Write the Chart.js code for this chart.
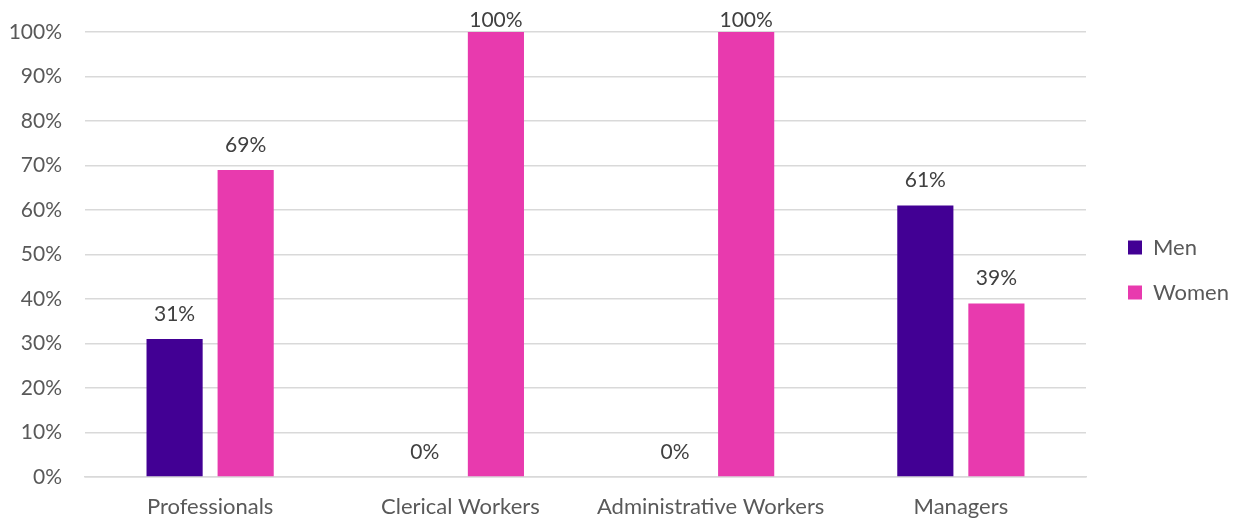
<!DOCTYPE html>
<html>
<head>
<meta charset="utf-8">
<script src="https://cdn.jsdelivr.net/npm/chart.js@4.4.1/dist/chart.umd.min.js"></script>
<style>
  html, body { margin: 0; padding: 0; background: #fff; overflow: hidden; }
  #box { width: 1234px; height: 518px; position: relative; }
</style>
</head>
<body>
<div id="box"><canvas id="chartJob"></canvas></div>
<script>
const kategori = ["Professionals", "Clerical Workers", "Administrative Workers", "Managers"];
const nilaiMen = [31, 0, 0, 61];
const nilaiWomen = [69, 100, 100, 39];
const labelTickY = ["0%", "10%", "20%", "30%", "40%", "50%", "60%", "70%", "80%", "90%", "100%"];

const warnaMen = "#420094";
const warnaWomen = "#E83AAE";
const fontUtama = "Lato, 'Open Sans', sans-serif";

// label nilai di atas batang
const labelBatang = {
  id: "labelBatang",
  afterDatasetsDraw(chart) {
    const ctx = chart.ctx;
    ctx.save();
    ctx.font = "21px " + fontUtama;
    ctx.fillStyle = "#404040";
    ctx.textAlign = "center";
    ctx.textBaseline = "middle";
    chart.data.datasets.forEach(function (ds, i) {
      const meta = chart.getDatasetMeta(i);
      meta.data.forEach(function (bar, j) {
        const y = Math.max(bar.y - 25, 20);
        ctx.fillText(ds.data[j] + "%", bar.x, y);
      });
    });
    ctx.restore();
  }
};

const canvas = document.getElementById("chartJob");
new Chart(canvas, {
  type: "bar",
  data: {
    labels: kategori,
    datasets: [
      { label: "Men", data: nilaiMen, backgroundColor: warnaMen },
      { label: "Women", data: nilaiWomen, backgroundColor: warnaWomen }
    ]
  },
  options: {
    responsive: true,
    maintainAspectRatio: false,
    animation: false,
    layout: { padding: { top: 22, left: 0, right: -5, bottom: 0 } },
    datasets: {
      bar: { categoryPercentage: 0.568, barPercentage: 0.79 }
    },
    scales: {
      x: {
        grid: { display: false, drawTicks: false },
        border: { display: true, color: "#d9d9d9", width: 1.5 },
        ticks: { color: "#595959", font: { size: 22, family: fontUtama }, padding: 17 },
        afterFit: function (s) { s.height = 41; }
      },
      y: {
        min: 0,
        max: 100,
        grid: { color: "#d9d9d9", lineWidth: 1.5, drawTicks: false },
        border: { display: false },
        ticks: {
          stepSize: 10,
          color: "#595959",
          font: { size: 21, family: fontUtama },
          padding: 23,
          callback: function (v) { return labelTickY[v / 10]; }
        },
        afterFit: function (s) {
          s.width = 85;
          s.paddingTop = 32;
        }
      },
      // sumbu kosong untuk jarak antara plot dan legenda
      jarak: {
        position: "right",
        display: true,
        grid: { display: false, drawTicks: false },
        border: { display: false },
        ticks: { display: false },
        afterFit: function (s) { s.width = 19; }
      }
    },
    plugins: {
      legend: {
        position: "right",
        labels: {
          boxWidth: 14,
          boxHeight: 14,
          padding: 23,
          color: "#595959",
          font: { size: 22, family: fontUtama }
        }
      },
      tooltip: { enabled: false }
    }
  },
  plugins: [labelBatang]
});
</script>
</body>
</html>
